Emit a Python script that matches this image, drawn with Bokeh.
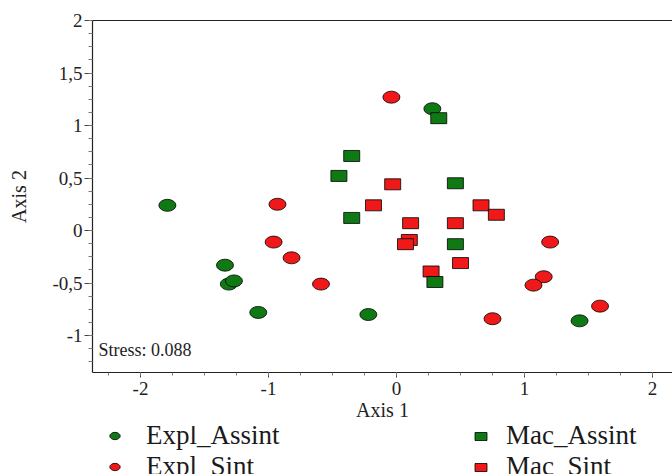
from bokeh.plotting import figure
from bokeh.layouts import column
from bokeh.models import (Range1d, LinearAxis, SingleIntervalTicker, FixedTicker,
                          CustomJSTickFormatter, Legend, LegendItem, Label)
from bokeh.embed import file_html
from bokeh.resources import INLINE

# ---- data ----
expl_assint_x = [-1.79, -1.34, -1.31, -1.27, -1.08, -0.22, 0.28, 1.43]
expl_assint_y = [0.24, -0.33, -0.51, -0.48, -0.78, -0.80, 1.16, -0.86]

expl_sint_x = [-0.04, -0.93, -0.96, -0.82, -0.59, 1.20, 1.15, 1.07, 1.59, 0.75]
expl_sint_y = [1.27, 0.25, -0.11, -0.26, -0.51, -0.11, -0.44, -0.52, -0.72, -0.84]

mac_assint_x = [-0.35, -0.45, -0.35, 0.33, 0.46, 0.46, 0.30]
mac_assint_y = [0.71, 0.52, 0.12, 1.07, 0.45, -0.13, -0.49]

mac_sint_x = [-0.03, -0.18, 0.66, 0.78, 0.11, 0.46, 0.10, 0.07, 0.50, 0.27]
mac_sint_y = [0.44, 0.24, 0.24, 0.15, 0.07, 0.07, -0.09, -0.13, -0.31, -0.39]

series_names = ["Expl_Assint", "Expl_Sint", "Mac_Assint", "Mac_Sint"]
stress_text = "Stress: 0.088"

GREEN = "#0f7a14"
RED = "#f01818"
SERIF = "Liberation Serif"
W = 672

p = figure(width=W, height=426, output_backend="svg", toolbar_location=None,
           x_range=Range1d(-2.375, 2.156), y_range=Range1d(-1.352, 2.0),
           x_axis_type=None, y_axis_type=None,
           min_border_left=92, min_border_right=0, min_border_top=20,
           min_border_bottom=54)
p.outline_line_color = None
p.xgrid.visible = False
p.ygrid.visible = False
p.background_fill_color = "white"
p.border_fill_color = "white"

fmt = CustomJSTickFormatter(code="return tick.toString().replace('.', ',');")

xaxis = LinearAxis(ticker=SingleIntervalTicker(interval=1, num_minor_ticks=4),
                   formatter=fmt, axis_label="Axis 1")
yaxis = LinearAxis(ticker=SingleIntervalTicker(interval=0.5, num_minor_ticks=4),
                   formatter=fmt, axis_label="Axis 2")
for ax in (xaxis, yaxis):
    ax.axis_line_color = "#222222"
    ax.axis_line_width = 1.2
    ax.major_tick_line_color = "#444444"
    ax.minor_tick_line_color = "#777777"
    ax.major_tick_in = 0
    ax.minor_tick_in = 0
    ax.major_label_text_font = SERIF
    ax.major_label_text_font_size = "19px"
    ax.major_label_text_color = "#222222"
    ax.axis_label_text_font = SERIF
    ax.axis_label_text_font_size = "20px"
    ax.axis_label_text_font_style = "normal"
    ax.axis_label_text_color = "#222222"
xaxis.major_tick_out = 5
xaxis.minor_tick_out = 3
xaxis.major_label_standoff = 4
xaxis.axis_label_standoff = 1
yaxis.major_tick_out = 8
yaxis.minor_tick_out = 4
yaxis.major_label_standoff = 2
yaxis.axis_label_standoff = 19
p.add_layout(xaxis, "below")
p.add_layout(yaxis, "left")

top = LinearAxis(ticker=FixedTicker(ticks=[]), major_label_text_font_size="0px",
                 major_tick_out=0, minor_tick_out=0, major_label_standoff=0)
top.axis_line_color = "#222222"
top.axis_line_width = 1.2
p.add_layout(top, "above")


def add_series(fig):
    r_ea = fig.ellipse(x=expl_assint_x, y=expl_assint_y, width=17, height=12,
                       width_units="screen", height_units="screen",
                       fill_color=GREEN, line_color="black", line_width=0.8)
    r_es = fig.ellipse(x=expl_sint_x, y=expl_sint_y, width=17, height=12,
                       width_units="screen", height_units="screen",
                       fill_color=RED, line_color="black", line_width=0.8)
    r_ms = fig.rect(x=mac_sint_x, y=mac_sint_y, width=16, height=11,
                    width_units="screen", height_units="screen",
                    fill_color=RED, line_color="black", line_width=0.8)
    r_ma = fig.rect(x=mac_assint_x, y=mac_assint_y, width=16, height=11,
                    width_units="screen", height_units="screen",
                    fill_color=GREEN, line_color="black", line_width=0.8)
    return r_ea, r_es, r_ma, r_ms


add_series(p)

p.add_layout(Label(x=6, y=13, x_units="screen", y_units="screen", text=stress_text,
                   text_font=SERIF, text_font_size="18px", text_color="#222222"))

# ---- legend strip (separate figure, same series; its ranges keep the marks off view) ----
lf = figure(width=W, height=48, output_backend="svg", toolbar_location=None,
            x_range=Range1d(50, 51), y_range=Range1d(50, 51),
            x_axis_type=None, y_axis_type=None,
            min_border_left=0, min_border_right=0, min_border_top=0,
            min_border_bottom=0)
lf.outline_line_color = None
lf.xgrid.visible = False
lf.ygrid.visible = False
l_ea, l_es, l_ma, l_ms = add_series(lf)

leg1 = Legend(items=[LegendItem(label=series_names[0], renderers=[l_ea]),
                     LegendItem(label=series_names[1], renderers=[l_es])],
              location=(16, -8), glyph_width=13, glyph_height=13,
              label_standoff=25, spacing=0, padding=0, margin=0)
leg2 = Legend(items=[LegendItem(label=series_names[2], renderers=[l_ma]),
                     LegendItem(label=series_names[3], renderers=[l_ms])],
              location=(381, -8), glyph_width=15, glyph_height=10,
              label_standoff=18, spacing=0, padding=0, margin=0)
for lg in (leg1, leg2):
    lg.border_line_color = None
    lg.background_fill_alpha = 0
    lg.label_text_font = SERIF
    lg.label_text_font_size = "27px"
    lg.label_text_color = "#1a1a1a"
    lg.label_height = 30
    lf.add_layout(lg, "center")

layout = column(p, lf, spacing=0)
open("out.html", "w").write(file_html(layout, INLINE))
